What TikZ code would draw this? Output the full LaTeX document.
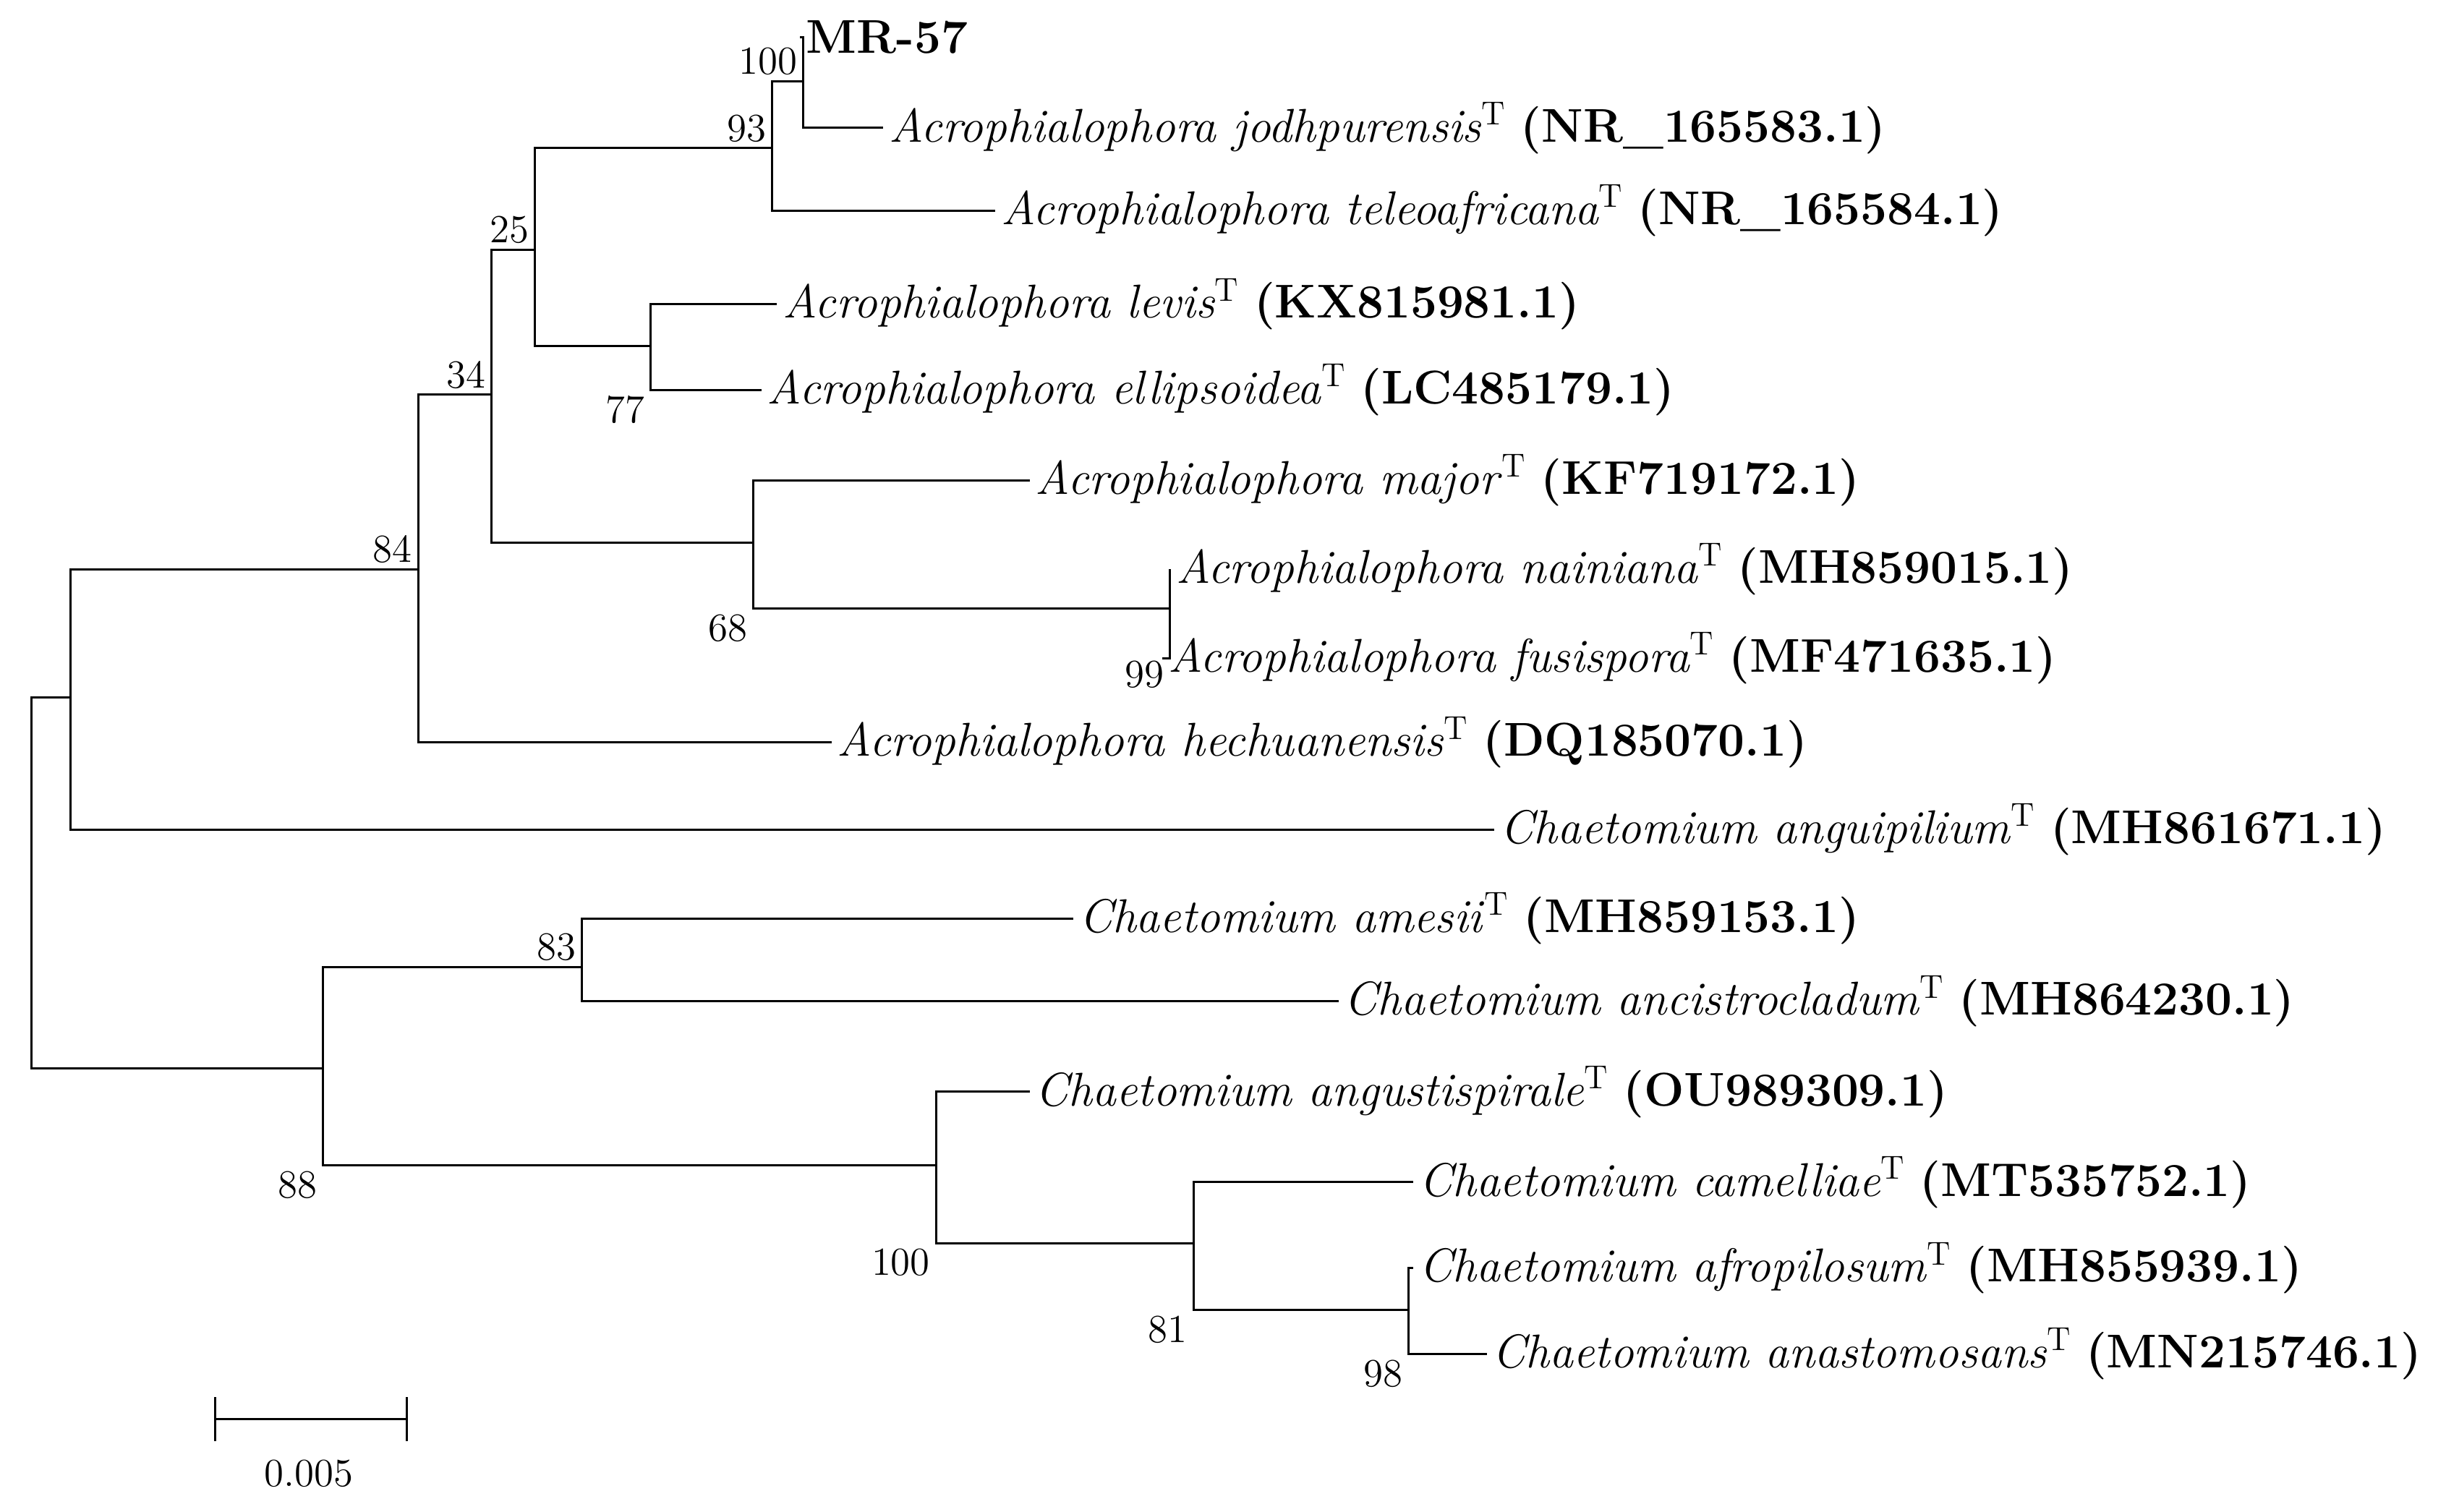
\documentclass[tikz,border=0pt]{standalone}
\usepackage{amsmath}
\newcommand{\taxon}[2]{\textit{#1}\textsuperscript{T} \textbf{(#2)}}
\begin{document}
\begin{tikzpicture}[x=0.02cm,y=-0.02cm,
		branch/.style={thick},
		leaf/.style={anchor=west,inner sep=2pt,font=\fontsize{17.3}{19}\selectfont},
		boot/.style={inner sep=2pt,font=\fontsize{14.5}{16}\selectfont}]
		\useasboundingbox (0,0) rectangle (1568,969.4);
		% internal nodes
		\coordinate (r) at (20,566);
		\coordinate (n84) at (45,447);
		\coordinate (n34) at (268,365);
		\coordinate (n25) at (315,253);
		\coordinate (n93) at (343,160);
		\coordinate (n100a) at (495,95);
		\coordinate (t100a) at (515,52);
		\coordinate (n77) at (417,222);
		\coordinate (n68) at (483,348);
		\coordinate (n99) at (750,390);
		\coordinate (n88) at (207,685);
		\coordinate (n83) at (373,620);
		\coordinate (n100b) at (600,747);
		\coordinate (n81) at (765,797);
		\coordinate (n98) at (903,840);
		% leaves
		\node[leaf] (mr) at (513,24) {\textbf{MR-57}};
		\node[leaf] (jod) at (566,82) {\taxon{Acrophialophora jodhpurensis}{NR\_165583.1}};
		\node[leaf] (tel) at (638,135) {\taxon{Acrophialophora teleoafricana}{NR\_165584.1}};
		\node[leaf] (lev) at (498,195) {\taxon{Acrophialophora levis}{KX815981.1}};
		\node[leaf] (ell) at (488,250) {\taxon{Acrophialophora ellipsoidea}{LC485179.1}};
		\node[leaf] (maj) at (660,308) {\taxon{Acrophialophora major}{KF719172.1}};
		\node[leaf] (nai) at (750,365) {\taxon{Acrophialophora nainiana}{MH859015.1}};
		\node[leaf] (fus) at (745,422) {\taxon{Acrophialophora fusispora}{MF471635.1}};
		\node[leaf] (hec) at (533,476) {\taxon{Acrophialophora hechuanensis}{DQ185070.1}};
		\node[leaf] (ang) at (958,532) {\taxon{Chaetomium anguipilium}{MH861671.1}};
		\node[leaf] (ame) at (688,589) {\taxon{Chaetomium amesii}{MH859153.1}};
		\node[leaf] (anc) at (858,642) {\taxon{Chaetomium ancistrocladum}{MH864230.1}};
		\node[leaf] (asp) at (660,700) {\taxon{Chaetomium angustispirale}{OU989309.1}};
		\node[leaf] (cam) at (906,758) {\taxon{Chaetomium camelliae}{MT535752.1}};
		\node[leaf] (afr) at (906,813) {\taxon{Chaetomium afropilosum}{MH855939.1}};
		\node[leaf] (ana) at (953,868) {\taxon{Chaetomium anastomosans}{MN215746.1}};
		% branches
		\draw[branch] (r) |- (n84);
		\draw[branch] (r) |- (n88);
		\draw[branch] (n84) |- (n34);
		\draw[branch] (n84) |- (ang.west);
		\draw[branch] (n34) |- (n25);
		\draw[branch] (n34) |- (hec.west);
		\draw[branch] (n25) |- (n93);
		\draw[branch] (n25) |- (n68);
		\draw[branch] (n93) |- (n100a);
		\draw[branch] (n93) |- (n77);
		\draw[branch] (n100a) |- (t100a);
		\draw[branch] (n100a) |- (tel.west);
		\draw[branch] (t100a) |- (mr.west);
		\draw[branch] (t100a) |- (jod.west);
		\draw[branch] (n77) |- (lev.west);
		\draw[branch] (n77) |- (ell.west);
		\draw[branch] (n68) |- (maj.west);
		\draw[branch] (n68) |- (n99);
		\draw[branch] (n99) |- (nai.west);
		\draw[branch] (n99) |- (fus.west);
		\draw[branch] (n88) |- (n83);
		\draw[branch] (n88) |- (n100b);
		\draw[branch] (n83) |- (ame.west);
		\draw[branch] (n83) |- (anc.west);
		\draw[branch] (n100b) |- (asp.west);
		\draw[branch] (n100b) |- (n81);
		\draw[branch] (n81) |- (cam.west);
		\draw[branch] (n81) |- (n98);
		\draw[branch] (n98) |- (afr.west);
		\draw[branch] (n98) |- (ana.west);
		% bootstrap values
		\node[boot,above left] at (n34) {84};
		\node[boot,above left] at (n25) {34};
		\node[boot,above left] at (n93) {25};
		\node[boot,above left] at (n100a) {93};
		\node[boot,above left] at (t100a) {100};
		\node[boot,below left] at (417,250) {77};
		\node[boot,below left] at (483,390) {68};
		\node[boot,below left] at (750,420) {99};
		\node[boot,above left] at (n83) {83};
		\node[boot,below left] at (207,747) {88};
		\node[boot,below left] at (600,797) {100};
		\node[boot,below left] at (765,840) {81};
		\node[boot,below left] at (903,868) {98};
		% scale bar
		\coordinate (s1) at (138,910);
		\coordinate (s2) at (261,910);
		\draw[branch] (s1) -- (s2);
		\draw[branch] ([yshift=-8]s1) -- ([yshift=8]s1);
		\draw[branch] ([yshift=-8]s2) -- ([yshift=8]s2);
		\node[boot] (sc) at (198,945) {0.005};
	\end{tikzpicture}
\end{document}
